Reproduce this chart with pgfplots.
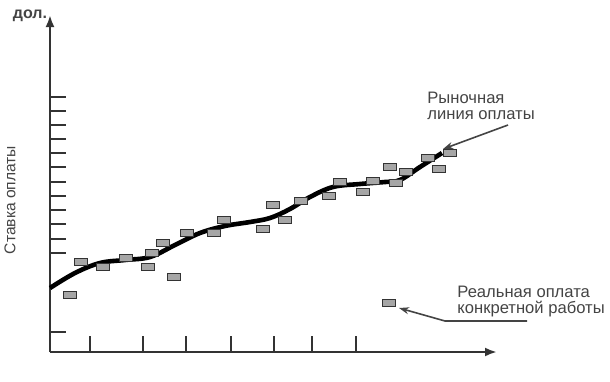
\documentclass[border=0pt]{standalone}
\usepackage{fontspec}
\setmainfont{Liberation Sans}
\usepackage{pgfplots}
\pgfplotsset{compat=1.18}
\usetikzlibrary{arrows.meta}
\definecolor{axgray}{HTML}{333333}
\definecolor{txtgray}{HTML}{444444}
\begin{document}
\begin{tikzpicture}
\begin{axis}[
  scale only axis,
  width=223.5pt, height=168.5pt,
  xmin=50, xmax=497, ymin=29, ymax=366,
  axis lines=left,
  axis line style={axgray, line width=1.2pt, -{Latex[length=6pt,width=4.5pt]}},
  xtick={90,143,186,231,274,312,356},
  ytick={49,128,142,157,171,185,199,214,228,242,256,270,284},
  xticklabels={}, yticklabels={},
  tick align=inside,
  major tick length=8pt,
  tick style={axgray, line width=1pt},
  clip=false,
]
\path (axis cs:0,0) rectangle (axis cs:610,381);
% market pay line
\addplot[smooth, tension=0.6, line width=2.3pt, black] coordinates {
(50,93) (75,108) (100,118) (125,121) (150,124) (175,136) (200,148) (225,155)
(250,159) (270,163) (290,172) (310,184) (333,194) (360,197) (385,199) (400,201)
(420,214) (442,228)
};
% actual pay for specific jobs
\addplot[only marks, mark=square*, mark size=1.8pt,
  mark options={xscale=1.8, fill=gray!70, draw=axgray, line width=0.6pt}] coordinates {
(70,86) (81,119) (103,114) (126,123) (148,114) (152,128) (163,138) (174,104)
(187,148) (214,148) (224,161) (263,152) (273,176) (285,161) (301,180) (329,185)
(340,199) (363,189) (373,200) (390,214) (396,198) (406,209) (428,223) (439,212)
(450,228) (389,78)
};
\draw[txtgray, line width=0.8pt, -{Stealth[length=5pt,width=3.5pt]}] (axis cs:508,256) -- (axis cs:443,232);
\draw[txtgray, line width=0.8pt, -{Stealth[length=5pt,width=3.5pt]}] (axis cs:527,60) -- (axis cs:445,60) -- (axis cs:399,73);
\node[anchor=west, align=left, inner sep=0pt, text=txtgray, font=\fontsize{8.3}{8}\selectfont] at (axis cs:427,275) {Рыночная\\линия оплаты};
\node[anchor=west, align=left, inner sep=0pt, text=txtgray, font=\fontsize{8.3}{8}\selectfont] at (axis cs:457,79.5) {Реальная оплата\\конкретной работы};
\node[rotate=90, inner sep=0pt, text=txtgray, font=\fontsize{7.8}{8}\selectfont] at (axis cs:10,181) {Ставка оплаты};
\node[inner sep=0pt, text=txtgray, font=\bfseries\fontsize{8}{8}\selectfont] at (axis cs:30,365) {дол.};
\end{axis}
\end{tikzpicture}
\end{document}
